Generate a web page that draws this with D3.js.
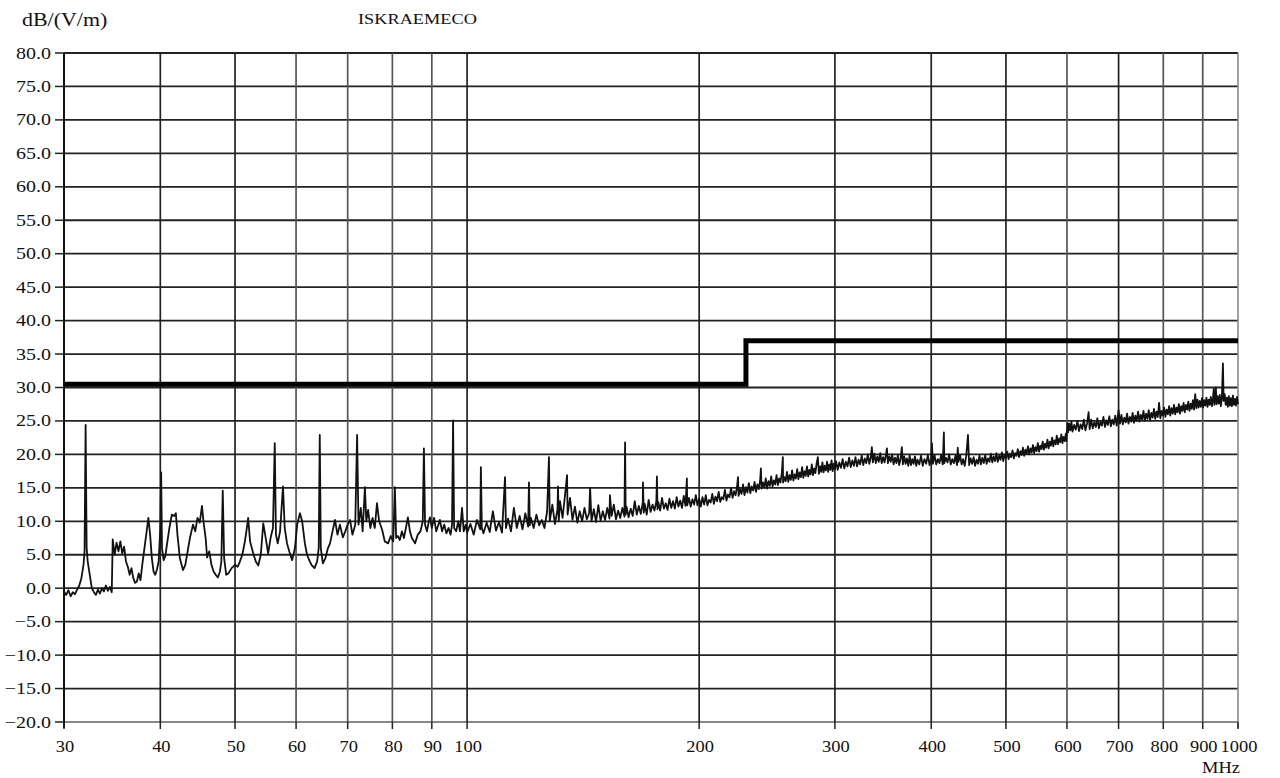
<!DOCTYPE html>
<html>
<head>
<meta charset="utf-8">
<script src="https://cdn.jsdelivr.net/npm/d3@7"></script>
<style>
  body { margin: 0; background: #fff; }
  svg { display: block; font-family: "Liberation Serif", "DejaVu Serif", serif; }
</style>
</head>
<body>
<div id="chart"></div>
<script>
// tick values
const xTicks = [30, 40, 50, 60, 70, 80, 90, 100, 200, 300, 400, 500, 600, 700, 800, 900, 1000]
const yTicks = [-20, -15, -10, -5, 0, 5, 10, 15, 20, 25, 30, 35, 40, 45, 50, 55, 60, 65, 70, 75, 80]

// limit line [MHz, dB]
const limitLine = [[30, 30.5], [230, 30.5], [230, 37], [1000, 37]]

const band30to100 = [
  [30.0,-0.5],[30.2,-1.0],[30.4,-0.3],[30.6,-1.2],[30.8,-0.6],[31.0,-0.9],[31.2,-0.2],[31.4,0.4],[31.6,1.5],[31.8,3.5],
  [31.9,5.5],[32.0,24.4],[32.1,6.0],[32.2,4.0],[32.4,2.0],[32.6,0.0],[32.8,-0.6],[33.0,-1.0],[33.2,-0.2],[33.4,-0.8],
  [33.6,0.0],[33.8,-0.5],[34.0,0.4],[34.2,-0.4],[34.4,0.2],[34.6,-0.6],[34.7,7.3],[34.9,5.0],[35.1,6.8],[35.3,5.5],
  [35.5,7.0],[35.7,5.2],[35.9,6.2],[36.1,4.0],[36.3,3.2],[36.5,2.0],[36.7,3.0],[36.9,1.5],[37.1,0.8],[37.3,1.0],
  [37.5,2.2],[37.7,1.2],[37.9,3.5],[38.1,5.5],[38.4,8.5],[38.6,10.5],[38.8,8.0],[39.0,4.5],[39.2,2.5],[39.4,2.0],
  [39.6,2.8],[39.8,4.0],[40.0,9.0],[40.1,17.3],[40.2,6.0],[40.4,4.2],[40.6,4.8],[40.8,6.5],[41.1,9.0],[41.4,11.0],
  [41.7,10.8],[41.9,11.2],[42.1,8.0],[42.4,4.5],[42.8,2.7],[43.1,3.5],[43.4,5.5],[43.7,7.5],[44.1,9.5],[44.4,8.5],
  [44.7,10.5],[45.0,9.8],[45.3,12.3],[45.5,10.0],[45.8,7.5],[46.0,4.6],[46.3,5.5],[46.6,3.5],[46.9,2.5],[47.2,2.0],
  [47.5,1.6],[47.8,2.5],[48.0,4.0],[48.2,14.6],[48.4,4.5],[48.7,2.0],[49.0,2.2],[49.5,3.0],[50.0,3.5],[50.4,3.2],
  [50.7,3.9],[51.1,5.0],[51.5,7.0],[51.8,9.0],[52.0,10.5],[52.3,7.0],[52.8,5.2],[53.2,4.0],[53.6,3.4],[54.0,5.0],
  [54.4,9.7],[54.8,7.5],[55.2,5.2],[55.6,7.5],[56.0,9.0],[56.3,21.7],[56.5,8.0],[56.8,6.7],[57.2,8.5],[57.7,15.2],
  [58.0,9.0],[58.4,6.7],[58.8,5.5],[59.3,4.2],[59.8,6.0],[60.2,9.5],[60.7,11.2],[61.1,10.0],[61.6,6.7],[62.0,5.0],
  [62.5,4.0],[62.9,3.4],[63.4,3.0],[63.9,4.0],[64.2,6.0],[64.4,22.9],[64.6,6.0],[65.0,3.7],[65.5,4.5],[66.0,6.0],
  [66.4,6.7],[66.9,8.5],[67.4,10.2],[67.9,8.0],[68.4,9.5],[69.0,7.6],[69.5,8.5],[70.0,9.5],[70.5,10.2],[71.0,8.0],
  [71.6,9.5],[72.0,22.9],[72.3,9.5],[72.8,12.0],[73.2,8.5],[73.7,15.1],[74.0,10.0],[74.4,11.7],[74.9,9.0],[75.4,10.5],
  [75.9,9.0],[76.4,12.7],[76.9,10.0],[77.6,8.7],[78.2,7.0],[79.0,6.7],[79.6,7.8],[80.2,7.0],[80.6,15.1],[80.9,7.5],
  [81.3,7.8],[81.8,7.2],[82.3,8.5],[82.8,7.5],[83.3,9.0],[83.8,10.6],[84.3,8.5],[84.8,7.5],[85.6,6.7],[86.3,8.0],
  [87.0,8.5],[87.6,10.0],[87.9,20.9],[88.2,9.5],[88.7,8.5],[89.2,10.0],[89.5,10.6],[90.0,9.0],[90.6,10.5],[91.2,8.5],
  [91.8,9.5],[92.2,10.2],[92.8,8.5],[93.4,9.5],[94.0,8.2],[94.6,9.0],[95.2,8.0],[95.6,9.5],[95.9,25.1],[96.2,9.0],
  [96.8,8.5],[97.4,10.0],[97.9,8.5],[98.5,12.0],[99.0,8.5],[99.6,9.5]
]

const band100to200 = [
  [100,8.3],[101,9.6],[102,8.0],[103,10.2],[104,8.8],[104.2,18.1],[104.5,9.0],[105,8.2],[106,9.8],[107,8.4],
  [108,11.5],[109,8.6],[110,9.9],[111,8.3],[112,16.6],[112.3,9.0],[113,10.4],[114,8.5],[115,12.0],[116,9.0],
  [117,10.8],[118,8.8],[119,11.2],[120,9.2],[120.3,15.8],[120.6,9.4],[121,10.5],[122,9.0],[123,11.0],[124,9.4],
  [125,10.2],[126,9.0],[127,11.5],[127.7,19.6],[128,10.0],[129,12.5],[130,9.6],[131,11.8],[131.2,15.2],[131.5,10.0],
  [132,13.0],[133,10.5],[134,14.0],[134.8,16.9],[135,11.0],[136,13.5],[137,10.2],[138,12.2],[139,9.8],[140,11.5],
  [141,10.0],[142,12.0],[143,10.3],[144,11.2],[144.4,15.0],[145,10.0],[146,11.8],[147,9.9],[148,12.4],[149,10.1],
  [150,11.5],[151,10.2],[152,12.0],[153,10.4],[153.2,13.9],[154,10.8],[155,12.5],[156,10.3],[157,11.6],[158,10.5],
  [159,12.0],[160,10.7],[160.3,21.8],[160.6,11.0],[161,12.2],[162,10.6],[163,11.9],[164,10.8],[165,13.0],[166,11.0],
  [167,12.3],[168,11.1],[169,12.8],[169.1,15.8],[169.5,11.3],[170,12.6],[171,11.0],[172,13.2],[173,11.4],[174,12.5],
  [175,11.6],[176,13.0],[176.3,16.7],[176.6,11.8],[177,12.9],[178,11.6],[179,13.5],[180,11.9],[181,12.7],[182,11.7],
  [183,13.4],[184,12.0],[185,13.0],[186,11.9],[187,13.6],[188,12.2],[189,13.1],[190,12.0],[191,13.8],[192,12.3],
  [192.8,16.4],[193,12.4],[194,13.5],[195,12.2],[196,13.3],[197,12.5],[198,13.9],[199,12.4],[200,13.4]
]

const band200to500 = [
  [201,12.2],[202,13.6],[203,12.5],[204,13.9],[205,12.4],[206,13.2],[207,12.8],[208,14.1],[209,12.6],[210,13.7],
  [211,13.0],[212,14.4],[213,12.9],[214,13.6],[215,13.3],[216,14.7],[217,13.1],[218,14.0],[219,13.6],[220,15.0],
  [221,13.5],[222,14.5],[223,13.9],[224,15.2],[224.6,16.6],[225,13.8],[226,14.8],[227,14.1],[228,15.5],[229,13.9],
  [230,15.1],[231,14.3],[232,15.7],[233,14.2],[234,15.2],[235,14.6],[236,15.9],[237,14.4],[238,15.5],[239,14.8],
  [240,16.2],[240.5,17.9],[241,14.9],[242,15.8],[243,15.0],[244,16.4],[245,14.9],[246,16.0],[247,15.3],[248,16.7],
  [249,15.2],[250,16.1],[251,15.5],[252,16.9],[253,15.4],[254,16.4],[255,15.8],[256,17.2],[256.8,19.6],[257,15.8],
  [258,16.6],[259,16.0],[260,17.4],[261,15.9],[262,16.9],[263,16.2],[264,17.6],[265,16.1],[266,17.0],[267,16.4],
  [268,17.8],[269,16.3],[270,17.3],[271,16.6],[272,18.1],[273,16.5],[274,17.5],[275,16.8],[276,18.2],[277,16.7],
  [278,17.7],[279,17.0],[280,18.5],[281,16.9],[282,17.9],[283,17.2],[284,18.6],[285.1,19.6],[286,17.1],[287,18.2],
  [288,17.4],[289,18.8],[290,17.3],[291,18.3],[292,17.6],[293,18.9],[294,17.4],[295,18.5],[296,17.7],[297,19.1],
  [298,17.5],[299,18.6],[300,17.8],[301,19.0],[302.5,17.7],[304,18.8],[305.5,18.0],[307,19.3],[308.5,17.9],[310,18.9],
  [311.5,18.2],[313,19.5],[314.5,18.1],[316,19.1],[317.5,18.3],[319,19.6],[320.5,18.2],[322,19.2],[323.5,18.5],[325,19.8],
  [326.5,18.4],[328,19.4],[329.5,18.7],[331,20.0],[332.5,18.6],[334,19.6],[335,21.1],[336,18.8],[337.5,20.1],[339,18.7],
  [340.5,19.7],[342,18.9],[343.5,20.2],[345,18.7],[346.5,19.6],[348,18.8],[349.5,20.0],[350.4,20.9],[351.5,18.7],[353,19.7],
  [354.5,18.9],[356,20.0],[357.5,18.5],[359,19.5],[360.5,18.7],[362,19.9],[363.5,18.4],[365,19.4],[366.4,21.1],[367.5,18.5],
  [369,19.7],[370.5,18.6],[372,19.4],[373.5,18.3],[375,19.8],[376.5,18.4],[378,19.3],[379.5,18.6],[381,19.7],[382.5,18.3],
  [384,19.2],[386,18.5],[388,19.8],[390,18.3],[392,19.3],[394,18.6],[396,19.9],[398,18.4],[400,19.4],[400.8,21.7],
  [402,18.6],[404,19.9],[406,18.5],[408,19.3],[410,18.7],[412,19.9],[414,18.5],[415.4,23.3],[416,18.7],[418,19.5],
  [420,18.8],[422,20.0],[424,18.5],[426,19.3],[428,18.7],[430,19.8],[432,18.4],[433,21.0],[434,18.9],[436,19.9],
  [438,18.5],[440,19.3],[442,18.3],[444,19.7],[446.4,22.9],[448,18.4],[450,19.4],[452,18.6],[454,19.6],[456,18.3],
  [458,19.2],[460,18.6],[462,19.8],[464,18.5],[466,19.5],[468,18.7],[470,19.9],[472,18.6],[474,19.4],[476,18.9],
  [478,20.1],[480,18.8],[482,19.7],[484,19.0],[486,20.2],[488,18.9],[490,19.8],[492,19.2],[494,20.3],[496,19.0],
  [498,20.0],[500,19.4]
]

const band500to1000 = [
  [502,20.4],[504,19.3],[506,20.1],[508,19.6],[510,20.6],[512,19.4],[514,20.2],[516,19.8],[518,20.8],[520,19.6],
  [522,20.5],[524,19.9],[526,21.0],[528,19.8],[530,20.7],[532,20.1],[534,21.2],[536,20.0],[538,20.9],[540,20.3],
  [542,21.4],[544,20.2],[546,21.1],[548,20.5],[550,21.7],[552,20.4],[554,21.3],[556,20.8],[558,21.9],[560,20.7],
  [562,21.6],[564,21.0],[566,22.2],[568,20.9],[570,21.9],[572,21.3],[574,22.5],[576,21.2],[578,22.1],[580,21.5],
  [582,22.8],[584,21.5],[586,22.4],[588,21.8],[590,23.0],[592,21.7],[594,22.6],[596,22.0],[598,23.1],[599,22.0],
  [600,23.6],[601,24.7],[602,23.3],[604,24.6],[606,23.6],[608,24.9],[610,23.4],[613,24.4],[616,23.7],[619,25.0],
  [622,23.5],[625,24.5],[628,23.8],[631,25.2],[634,23.6],[637,24.6],[640,26.3],[642,23.8],[645,25.2],[648,23.9],
  [651,24.8],[654,24.1],[657,25.4],[660,23.9],[663,24.9],[666,24.3],[669,25.6],[672,24.1],[675,25.1],[678,24.4],
  [681,25.7],[684,24.2],[687,25.2],[690,24.5],[693,25.8],[696,24.3],[700,26.6],[703,24.6],[706,25.9],[709,24.5],
  [712,25.5],[715,24.8],[718,26.1],[721,24.6],[724,25.6],[727,24.9],[730,26.2],[733,24.7],[736,25.8],[739,25.0],
  [742,26.4],[745,24.9],[748,25.9],[751,25.2],[754,26.5],[757,25.0],[760,26.1],[763,25.3],[766,26.6],[769,25.1],
  [772,26.2],[775,25.5],[778,26.8],[781,25.3],[784,26.4],[787,25.6],[790,27.7],[793,25.4],[796,26.5],[799,25.8],
  [802,27.0],[805,25.6],[808,26.7],[811,26.0],[814,27.2],[817,25.8],[820,26.9],[823,26.1],[826,27.4],[829,26.0],
  [832,27.0],[835,26.3],[838,27.5],[841,26.1],[844,27.2],[847,26.5],[850,27.7],[853,26.3],[856,27.4],[859,26.7],
  [862,27.9],[865,26.5],[868,27.6],[871,26.8],[874,28.1],[877,26.7],[880,29.0],[883,26.9],[886,28.2],[889,27.0],
  [892,28.0],[895,27.1],[898,28.4],[901,27.0],[904,28.1],[907,27.3],[910,28.5],[913,27.1],[916,28.2],[919,27.4],
  [922,28.6],[925,27.2],[928,28.4],[930,29.8],[932,27.4],[934,28.6],[936,30.0],[938,27.5],[941,28.7],[944,27.6],
  [947,28.9],[950,27.2],[953,28.5],[956,33.6],[958,28.0],[961,29.0],[964,27.4],[967,28.5],[970,27.1],[973,28.7],
  [976,27.3],[979,28.4],[982,27.2],[985,28.8],[988,27.4],[991,28.3],[994,27.3],[997,28.6],[1000,27.5]
]

const spectrum = band30to100.concat(band100to200, band200to500, band500to1000)

function addText(g, text, x, y, size, sx, anchor) {
  g.append("text")
    .text(text)
    .attr("transform", `translate(${x},${y}) scale(${sx},1)`)
    .attr("font-size", size)
    .attr("text-anchor", anchor)
    .attr("fill", "#111")
}

function createChart() {
  const width = 1280,
    height = 778,
    margin = { "top": 53, "bottom": 56, "right": 42, "left": 64 }

  const svg = d3.select("#chart").append("svg")
    .attr("width", width)
    .attr("height", height)

  const x = d3.scaleLog().domain([30, 1000]).range([margin.left, width - margin.right])
  const y = d3.scaleLinear().domain([-20, 80]).range([height - margin.bottom, margin.top])

  const grid = svg.append("g")

  // horizontal grid
  grid.selectAll("line.h")
    .data(yTicks)
    .enter()
    .append("line")
    .attr("x1", margin.left)
    .attr("x2", width - margin.right)
    .attr("y1", d => y(d))
    .attr("y2", d => y(d))
    .attr("stroke", d => d === -20 ? "#888" : "#222")
    .attr("stroke-width", 1.8)

  // vertical grid
  grid.selectAll("line.v")
    .data(xTicks.slice(1, -1))
    .enter()
    .append("line")
    .attr("x1", d => x(d))
    .attr("x2", d => x(d))
    .attr("y1", y(80))
    .attr("y2", y(-20))
    .attr("stroke", d => [60, 70, 80, 90, 600, 800, 900].includes(d) ? "#555" : "#222")
    .attr("stroke-width", 1.7)

  // right border
  grid.append("line")
    .attr("x1", x(1000)).attr("x2", x(1000))
    .attr("y1", y(80)).attr("y2", y(-20) + 6)
    .attr("stroke", "#888").attr("stroke-width", 1.6)

  // left axis
  grid.append("line")
    .attr("x1", x(30)).attr("x2", x(30))
    .attr("y1", y(80)).attr("y2", y(-20) + 6)
    .attr("stroke", "#111").attr("stroke-width", 2)

  // y ticks and labels
  const yAxis = svg.append("g")
  yTicks.forEach(v => {
    yAxis.append("line")
      .attr("x1", margin.left - 9).attr("x2", margin.left)
      .attr("y1", y(v)).attr("y2", y(v))
      .attr("stroke", "#222").attr("stroke-width", 1.5)
    addText(yAxis, d3.format(".1f")(v), margin.left - 13, y(v) + 5.5, 16, 1.25, "end")
  })

  // x ticks and labels
  const xAxis = svg.append("g")
  xTicks.forEach(v => {
    xAxis.append("line")
      .attr("x1", x(v)).attr("x2", x(v))
      .attr("y1", y(-20)).attr("y2", y(-20) + 7)
      .attr("stroke", "#222").attr("stroke-width", 1.5)
    addText(xAxis, v, x(v) + 1, 752, 16, 1.15, "middle")
  })

  addText(svg, "MHz", 1221, 773, 16, 1.15, "middle")
  addText(svg, "dB/(V/m)", 22, 26, 18, 1.22, "start")
  addText(svg, "ISKRAEMECO", 358, 24, 15, 1.22, "start")

  // spectrum trace
  const line = d3.line()
    .x(d => x(d[0]))
    .y(d => y(d[1]))

  svg.append("path")
    .datum(spectrum)
    .attr("d", line)
    .attr("fill", "none")
    .attr("stroke", "#111")
    .attr("stroke-width", 1.8)
    .attr("stroke-linejoin", "round")

  // limit line
  svg.append("path")
    .datum(limitLine)
    .attr("d", line)
    .attr("fill", "none")
    .attr("stroke", "#000")
    .attr("stroke-width", 5)
}

createChart()
</script>
</body>
</html>
